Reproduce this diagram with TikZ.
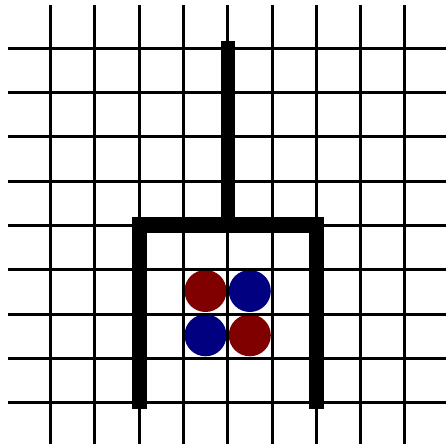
\documentclass[tikz,border=0pt]{standalone}
\begin{document}
\begin{tikzpicture}[x=1pt,y=-1pt,
  gridline/.style={line width=3pt,black},
  fork/.style={fill=black,draw=none}]
\useasboundingbox[fill=white] (0,0) rectangle (446,446);
\definecolor{darkred}{RGB}{128,0,0}
\definecolor{darkblue}{RGB}{0,0,128}
% pieces
\fill[darkred]  (205.5,291) circle (21);
\fill[darkblue] (249.8,291) circle (21);
\fill[darkblue] (205.5,335.3) circle (21);
\fill[darkred]  (249.8,335.3) circle (21);
% grid
\foreach \k in {0,...,8} {
  \draw[gridline] ({50.5+44.3*\k},5.5) -- ({50.5+44.3*\k},444);
  \draw[gridline] (8,{48.3+44.3*\k}) -- (446,{48.3+44.3*\k});
}
% fork
\fill[fork] (221,40.7) rectangle (235,225);
\fill[fork] (132,217) rectangle (324,233);
\fill[fork] (132,217) rectangle (147,409);
\fill[fork] (309,217) rectangle (324,409);
\end{tikzpicture}
\end{document}
